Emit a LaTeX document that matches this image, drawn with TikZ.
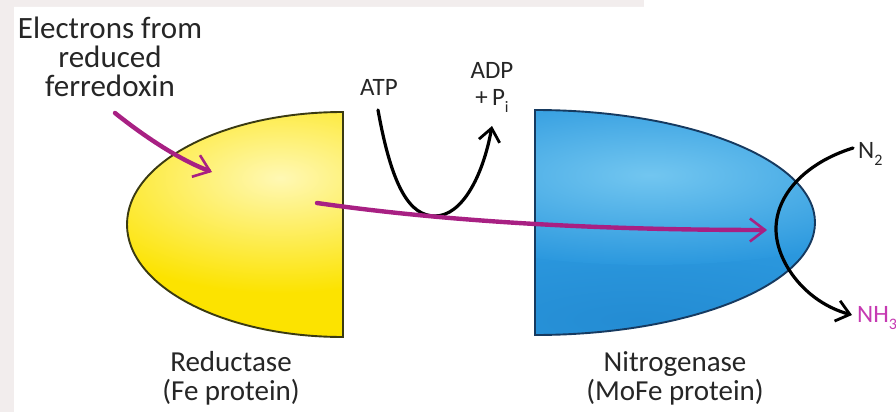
\documentclass[tikz,border=0pt]{standalone}
\usepackage{fontspec}
\setmainfont{Carlito}
\usetikzlibrary{arrows.meta}

\definecolor{bgpink}{HTML}{F2EDED}
\definecolor{ybase}{HTML}{FCE300}
\definecolor{ylight}{HTML}{FFF8B4}
\definecolor{yedge}{HTML}{3A3A12}
\definecolor{bbase}{HTML}{2B98DE}
\definecolor{blight}{HTML}{72C6F0}
\definecolor{bdark}{HTML}{1F84CC}
\definecolor{bedge}{HTML}{163A60}
\definecolor{emag}{HTML}{A82083}
\definecolor{nhmag}{HTML}{C63AB2}
\definecolor{txt}{HTML}{262626}

\newcommand\lowsub[1]{\raisebox{-0.3em}{\fontsize{16}{16}\selectfont #1}}

\begin{document}
\begin{tikzpicture}[x=1pt,y=-1pt,
  biglabel/.style={font=\fontsize{31}{31}\selectfont, text=txt, align=center, inner sep=0pt},
  smalllabel/.style={font=\fontsize{25}{25}\selectfont, text=txt, inner sep=0pt},
  outline/.style={line width=1.9pt},
  flow/.style={line width=3.2pt, line cap=round, -{Straight Barb[length=13pt,width=21pt,line width=2.8pt]}},
  eflow/.style={emag, line width=4.4pt, line cap=round, -{Straight Barb[length=15pt,width=23pt,line width=2.6pt]}}
]
\useasboundingbox (0,0) rectangle (896,412);

% paper and page edge
\fill[bgpink] (0,0) rectangle (896,412);
\fill[white] (14,7) -- (644,7) -- (644,0) -- (896,0) -- (896,412) -- (14,412) -- cycle;

% Fe protein (reductase): half ellipse, flat side to the right
\path[draw=yedge, outline, path picture={
    \fill[ybase] (100,100) rectangle (360,350);
    \shade[inner color=ylight, outer color=ybase] (280,178) ellipse [x radius=230, y radius=115];
  }]
  (343,112) arc[start angle=-90, end angle=-270, x radius=216, y radius=112.5] -- cycle;

% MoFe protein (nitrogenase): half ellipse, flat side to the left
\path[draw=bedge, outline, path picture={
    \fill[bbase] (520,100) rectangle (830,350);
    \shade[inner color=bdark!60!bbase, outer color=bbase] (640,320) ellipse [x radius=320, y radius=80];
    \shade[inner color=blight, outer color=bbase] (650,175) ellipse [x radius=300, y radius=90];
  }]
  (535,110) arc[start angle=-90, end angle=90, x radius=280, y radius=112.5] -- cycle;

% labels
\node[biglabel] (ferr) at (110,57) {Electrons from\\[-2pt]reduced\\[-2pt]ferredoxin};
\node[biglabel, font=\fontsize{29}{29}\selectfont] (red) at (231,378) {Reductase\\(Fe protein)};
\node[biglabel, font=\fontsize{29}{29}\selectfont] (nit) at (675,378) {Nitrogenase\\(MoFe protein)};
\node[smalllabel, anchor=base] (atp) at (379,95) {ATP};
\node[smalllabel, anchor=base] (adp) at (492,78) {ADP};
\node[smalllabel, anchor=base] (pi) at (492,105) {+\,P\lowsub{i}};
\node[smalllabel, anchor=base west] (n2) at (858,158) {N\lowsub{2}};
\node[smalllabel, anchor=base west, text=nhmag] (nh3) at (857,322) {NH\lowsub{3}};

% path anchors
\coordinate (e0) at (115,113);
\coordinate (e1) at (212,172);
\coordinate (m0) at (317,203);
\coordinate (m1) at (767,230);
\coordinate (a0) at (378,110);
\coordinate (ab) at (435,216);
\coordinate (a1) at (492,126);
\coordinate (n0) at (853,148);
\coordinate (nl) at (776,229);
\coordinate (n1) at (852,315);

% ATP hydrolysis
\draw[flow] (a0) .. controls (392,188) and (410,216) .. (ab)
  .. controls (462,216) and (483,176) .. (a1);

% electron flow
\draw[eflow] (e0) .. controls (145,137) and (180,160) .. (e1);
\draw[eflow] (m0) .. controls (450,222) and (600,230) .. (m1);

% N2 reduction
\draw[flow] (n0) .. controls (805,163) and (776,195) .. (nl)
  .. controls (776,262) and (805,302) .. (n1);
\end{tikzpicture}
\end{document}
